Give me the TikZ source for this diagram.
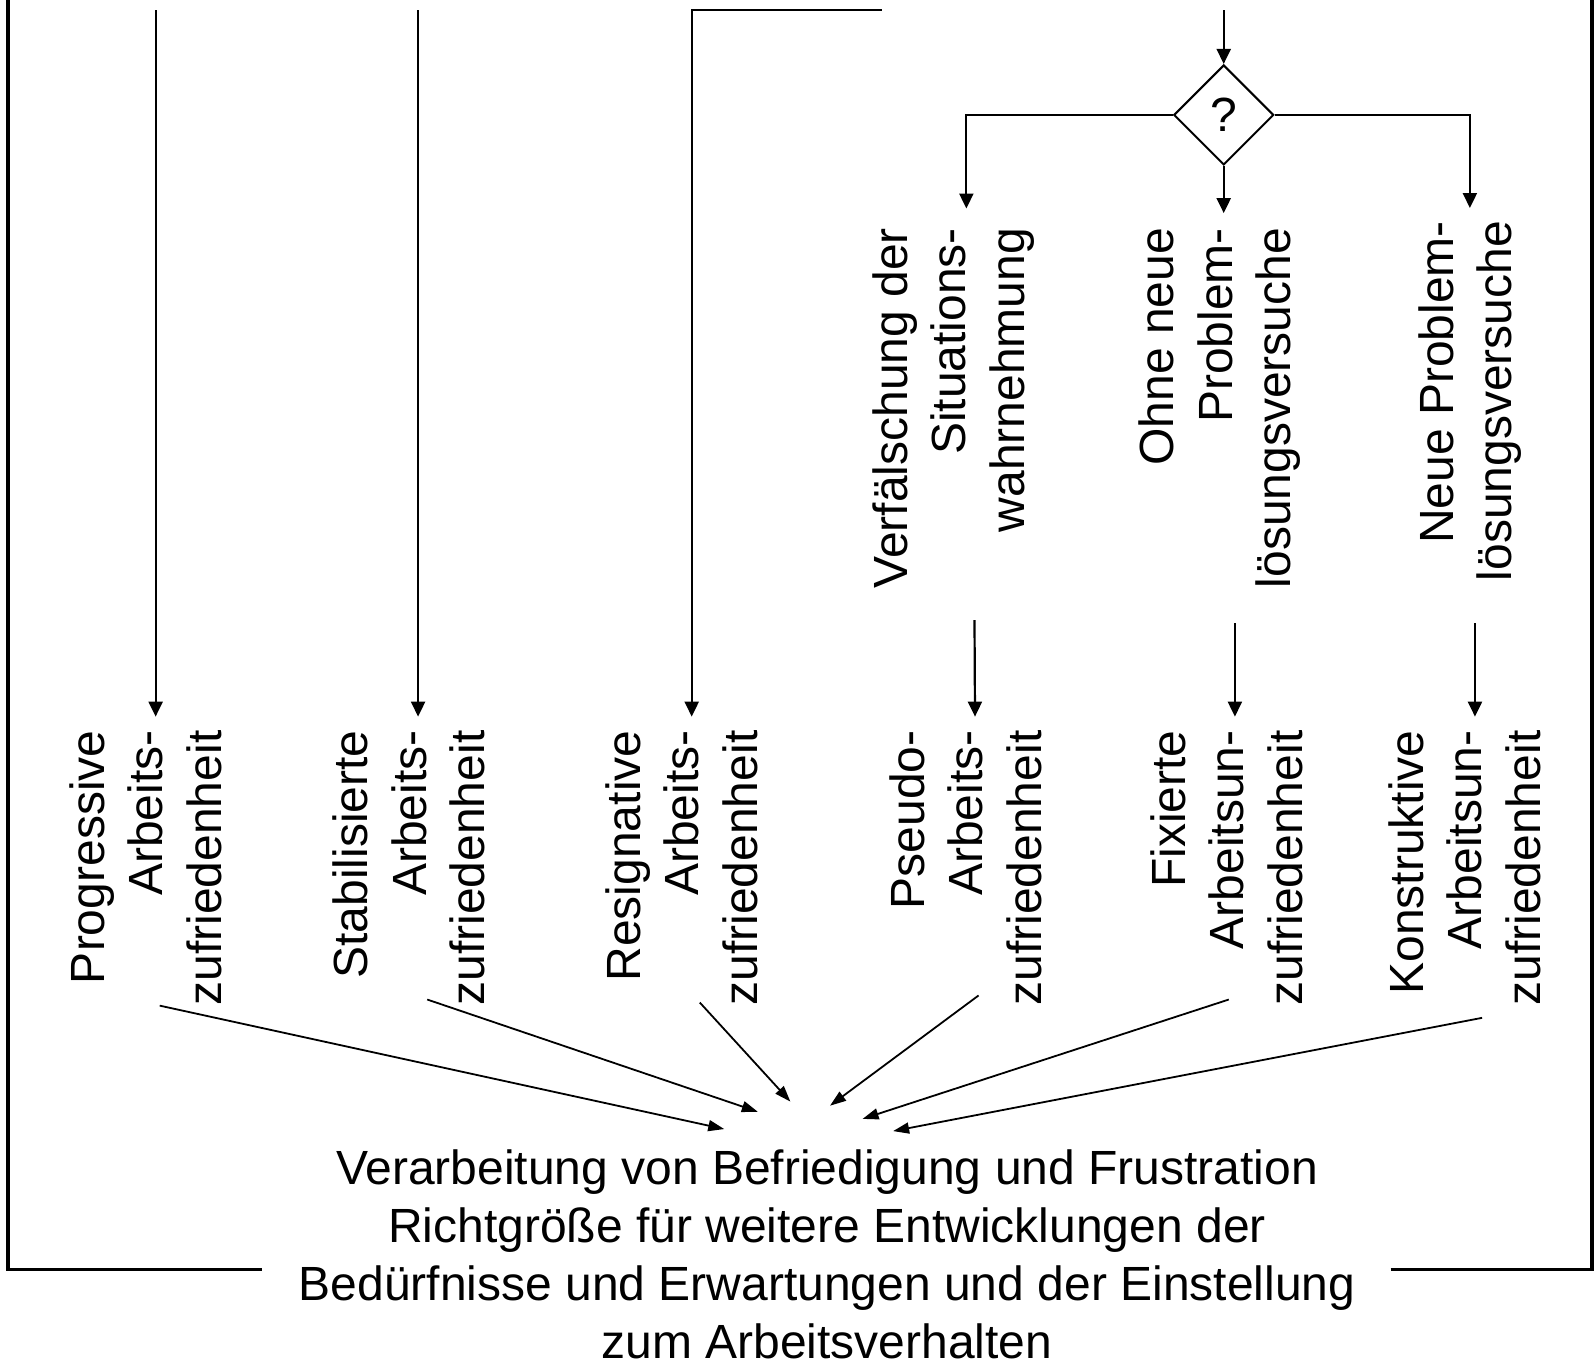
\documentclass[tikz,border=0pt]{standalone}
\usepackage{fontspec}
\setmainfont{Liberation Sans}
\usetikzlibrary{shapes.geometric,arrows.meta,calc}
\begin{document}
\begin{tikzpicture}[x=1.0172pt,y=-1.0172pt,
  arr/.style={line width=2.2pt,-{Triangle[length=15pt,width=14pt]}},
  carr/.style={line width=1.8pt,-{Triangle[length=16pt,width=11pt]}},
  frame/.style={line width=3.5pt},
  lbl/.style={rotate=90,anchor=east,inner sep=0pt,align=right,font=\fontsize{48}{58.5}\selectfont},
  bigtxt/.style={inner sep=0pt,align=center,font=\fontsize{48}{58}\selectfont},
  decision/.style={diamond,draw,line width=2pt,aspect=1,minimum width=100pt,minimum height=100pt,inner sep=0pt,font=\fontsize{48}{58}\selectfont}]
\useasboundingbox (0,0) rectangle (1568,1345);

% frame (loop back)
\coordinate (fl0) at (8,-2);
\coordinate (fl1) at (8,1248);
\coordinate (fl2) at (258,1248);
\coordinate (fr0) at (1565,-2);
\coordinate (fr1) at (1565,1248);
\coordinate (fr2) at (1367,1248);
\draw[frame] (fl0) -- (fl1) -- (fl2);
\draw[frame] (fr2) -- (fr1) -- (fr0);

% decision
\node[decision] (D) at (1203,113) {?};

% top labels
\node[lbl] (V1) at (937,224) {Verfälschung der\\Situations-\\wahrnehmung};
\node[lbl] (V2) at (1199,224) {Ohne neue\\Problem-\\lösungsversuche};
\node[lbl] (V3) at (1445,217) {Neue Problem-\\lösungsversuche};

% bottom labels
\node[lbl] (L1) at (143,718) {Progressive\\Arbeits-\\zufriedenheit};
\node[lbl] (L2) at (402,718) {Stabilisierte\\Arbeits-\\zufriedenheit};
\node[lbl] (L3) at (670,718) {Resignative\\Arbeits-\\zufriedenheit};
\node[lbl] (P4) at (949,718) {Pseudo-\\Arbeits-\\zufriedenheit};
\node[lbl] (P5) at (1206,718) {Fixierte\\Arbeitsun-\\zufriedenheit};
\node[lbl] (P6) at (1440,718) {Konstruktive\\Arbeitsun-\\zufriedenheit};

% result text
\node[bigtxt] (B) at (813,1233) {Verarbeitung von Befriedigung und Frustration\\Richtgröße für weitere Entwicklungen der\\Bedürfnisse und Erwartungen und der Einstellung\\zum Arbeitsverhalten};

% incoming lines from top
\coordinate (t1) at (153,10);
\coordinate (t2) at (411,10);
\coordinate (t3) at (867,10);
\coordinate (tq) at (1203,10);
\draw[arr] (t1) -- ([shift={(10,-13.5)}]L1.east);
\draw[arr] (t2) -- ([shift={(9,-13.5)}]L2.east);
\draw[arr] (t3) -| ([shift={(10,-13.5)}]L3.east);
\draw[arr] (tq) -- (D.north);

% branches of decision
\draw[arr] (D.west) -| ([shift={(13,-19)}]V1.east);
\draw[arr] (D.south) -- ([shift={(4,-14.5)}]V2.east);
\draw[arr] (D.east) -| ([shift={(0,-12.5)}]V3.east);

% from situation texts to outcome
\draw[arr] ([shift={(21,31)}]V1.west) -- ([shift={(9.5,-13.5)}]P4.east);
\draw[arr] ([shift={(15,34)}]V2.west) -- ([shift={(8,-13.5)}]P5.east);
\draw[arr] ([shift={(5,41)}]V3.west) -- ([shift={(10,-13.5)}]P6.east);

% converging arrows
\draw[carr] ([shift={(14,0)}]L1.west) -- ([shift={(-101,-20)}]B.north);
\draw[carr] ([shift={(18,-6)}]L2.west) -- ([shift={(-68,-37)}]B.north);
\draw[carr] ([shift={(18,-3)}]L3.west) -- ([shift={(-36,-47)}]B.north);
\draw[carr] ([shift={(13,-10)}]P4.west) -- ([shift={(3,-43)}]B.north);
\draw[carr] ([shift={(2,-6)}]P5.west) -- ([shift={(35,-30)}]B.north);
\draw[carr] ([shift={(17,12)}]P6.west) -- ([shift={(65,-18)}]B.north);
\end{tikzpicture}
\end{document}
